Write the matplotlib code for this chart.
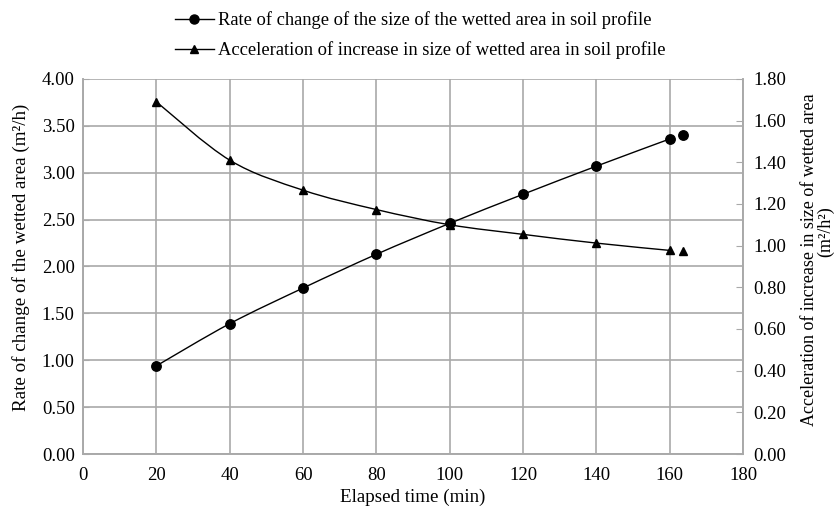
import numpy as np
import matplotlib
matplotlib.use("Agg")
import matplotlib.pyplot as plt
from matplotlib.path import Path
from matplotlib.patches import PathPatch
from matplotlib.lines import Line2D

plt.rcParams['font.family'] = ['Liberation Serif', 'DejaVu Serif']

### data
time_min = [20, 40, 60, 80, 100, 120, 140, 160, 163.5]
rate = [0.94, 1.39, 1.77, 2.13, 2.46, 2.77, 3.07, 3.36, 3.40]
accel = [1.69, 1.41, 1.266, 1.173, 1.10, 1.054, 1.012, 0.977, 0.972]

rate_label = "Rate of change of the size of the wetted area in soil profile"
accel_label = "Acceleration of increase in size of wetted area in soil profile"

grid_col = "#a9a9a9"
fs = 13.7
tick_fs = 13.5


def smooth_path(xs, ys):
    # catmull-rom style bezier, like the smoothed lines of a spreadsheet chart
    pts = np.column_stack([xs, ys])
    n = len(pts)
    verts = [pts[0]]
    codes = [Path.MOVETO]
    for i in range(n - 1):
        p0 = pts[max(i - 1, 0)]
        p1 = pts[i]
        p2 = pts[i + 1]
        p3 = pts[min(i + 2, n - 1)]
        c1 = p1 + (p2 - p0) / 6.0
        c2 = p2 - (p3 - p1) / 6.0
        verts += [c1, c2, p2]
        codes += [Path.CURVE4] * 3
    return Path(verts, codes)


fig = plt.figure(figsize=(8.36, 5.09), dpi=100)
ax = fig.add_axes([0.0993, 0.108, 0.7897, 0.737])
ax2 = ax.twinx()

n_line = 8
ax.add_patch(PathPatch(smooth_path(time_min[:n_line], rate[:n_line]),
                       fill=False, edgecolor="black", lw=1.0, zorder=3))
ax.plot(time_min, rate, ls="none", marker="o", ms=6.8, color="black", zorder=4)

ax2.add_patch(PathPatch(smooth_path(time_min[:n_line], accel[:n_line]),
                        fill=False, edgecolor="black", lw=1.0, zorder=3))
ax2.plot(time_min, accel, ls="none", marker="^", ms=6.2, color="black", zorder=4)

ax.set_xlim(0, 180)
ax.set_ylim(0, 4.0)
ax2.set_ylim(0, 1.8)
ax.set_xticks(np.arange(0, 181, 20))
ax.set_yticks(np.arange(0, 4.01, 0.5))
ax2.set_yticks(np.arange(0, 1.81, 0.2))
ax.set_yticklabels(["%.2f" % v for v in np.arange(0, 4.01, 0.5)])
ax2.set_yticklabels(["%.2f" % v for v in np.arange(0, 1.81, 0.2)])

ax.grid(True, color=grid_col, lw=1.2)
ax.set_axisbelow(True)
for a in (ax, ax2):
    for s in a.spines.values():
        s.set_color(grid_col)
        s.set_linewidth(1.2)
ax.spines['top'].set_visible(False)
ax2.spines['top'].set_visible(False)

ax.tick_params(axis="y", direction="in", length=4, color=grid_col, labelsize=tick_fs, pad=6)
ax.tick_params(axis="x", length=0, labelsize=tick_fs, pad=9.5)
ax2.tick_params(axis="y", direction="in", length=5, color=grid_col, labelsize=tick_fs, pad=7)

ax.set_xlabel("Elapsed time (min)", fontsize=fs, labelpad=3)
ax.set_ylabel("Rate of change of the wetted area (m²/h)", fontsize=fs)
ax.yaxis.set_label_coords(-0.081, 0.523)

# right axis title, wrapped onto two lines as in the original
fig.text(809 / 836, 1 - 260 / 509, "Acceleration of increase in size of wetted area",
         rotation=90, ha="center", va="center", fontsize=13)
fig.text(826 / 836, 1 - 232 / 509, "(m²/h²)",
         rotation=90, ha="center", va="center", fontsize=13)

handles = [Line2D([], [], color="black", lw=1.0, marker="o", ms=6.5),
           Line2D([], [], color="black", lw=1.0, marker="^", ms=5.5)]
fig.legend(handles, [rate_label, accel_label], loc="upper center",
           bbox_to_anchor=(0.503, 1.01), frameon=False, fontsize=13.3,
           handlelength=2.1, handletextpad=0.25, labelspacing=0.65)

fig.savefig("out.png", dpi=100)
